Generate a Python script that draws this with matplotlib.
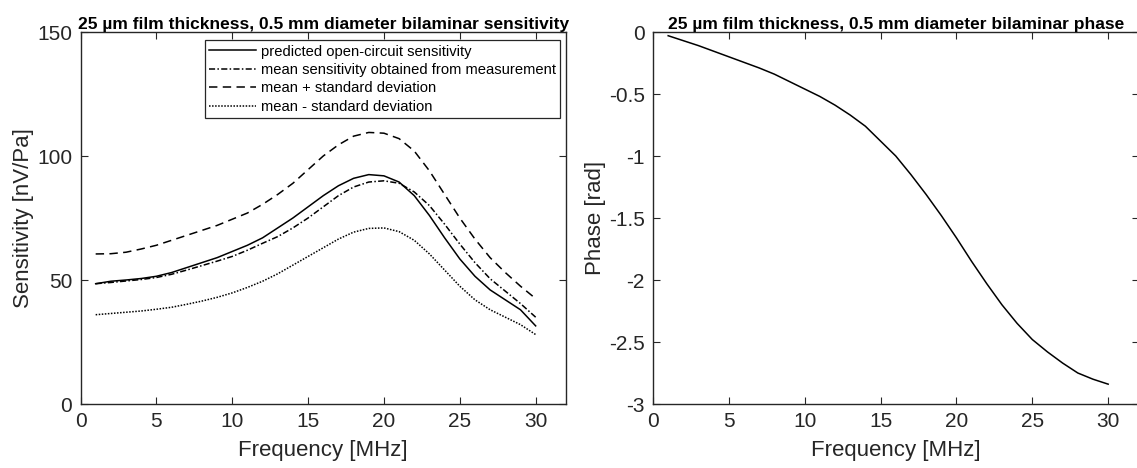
import matplotlib
matplotlib.use("Agg")
import matplotlib.pyplot as plt
import numpy as np

plt.rcParams["font.family"] = ["Liberation Sans", "DejaVu Sans"]

# frequency axis [MHz]
freq = np.arange(1, 31)

# sensitivity curves [nV/Pa]
predicted = [48.5, 49.5, 50.0, 50.6, 51.5, 53.0, 55.0, 57.0, 59.0, 61.5,
             64.0, 67.0, 71.0, 75.0, 79.5, 84.0, 88.0, 91.0, 92.5, 92.0,
             89.5, 84.0, 76.0, 67.0, 58.5, 51.5, 46.0, 42.0, 38.0, 31.5]
mean_meas = [48.5, 49.0, 49.6, 50.2, 51.0, 52.3, 54.0, 55.8, 57.6, 59.5,
             62.0, 64.8, 67.5, 71.0, 75.0, 79.5, 84.0, 87.5, 89.5, 90.0,
             89.0, 85.5, 80.0, 72.5, 64.5, 57.0, 50.5, 45.5, 40.5, 35.0]
mean_plus = [60.5, 60.6, 61.2, 62.5, 64.0, 66.0, 68.0, 70.0, 72.0, 74.5,
             77.0, 80.5, 84.5, 89.0, 94.5, 100.0, 104.5, 108.0, 109.5, 109.2,
             107.0, 102.0, 94.0, 84.5, 75.0, 66.5, 59.0, 53.0, 47.5, 42.5]
mean_minus = [36.0, 36.5, 37.0, 37.5, 38.2, 39.0, 40.2, 41.5, 43.0, 44.8,
              47.0, 49.5, 52.5, 56.0, 59.5, 63.0, 66.5, 69.3, 70.8, 71.0,
              69.5, 66.0, 60.5, 54.0, 47.5, 42.0, 38.0, 35.0, 32.0, 28.0]

# phase [rad]
phase = [-0.03, -0.07, -0.11, -0.155, -0.20, -0.245, -0.29, -0.34, -0.40, -0.46,
         -0.52, -0.59, -0.67, -0.76, -0.88, -1.00, -1.15, -1.31, -1.48, -1.66,
         -1.85, -2.03, -2.20, -2.35, -2.48, -2.58, -2.67, -2.75, -2.80, -2.84]

legend_labels = ["predicted open-circuit sensitivity",
                 "mean sensitivity obtained from measurement",
                 "mean + standard deviation",
                 "mean - standard deviation"]

axcol = "#262626"
W, H = 1137, 468
fig = plt.figure(figsize=(W / 100, H / 100), dpi=100)
ax1 = fig.add_axes([80.5 / W, (H - 404) / H, 485.5 / W, 372 / H])
ax2 = fig.add_axes([653 / W, (H - 404) / H, 485.5 / W, 372 / H])


def style_axes(ax):
    for s in ax.spines.values():
        s.set_color(axcol)
        s.set_linewidth(1.0)
    ax.tick_params(direction="in", top=True, right=True, length=5,
                   width=0.8, color=axcol, labelsize=15, labelcolor=axcol, pad=6)
    ax.set_xlim(0, 32)
    ax.set_xticks([0, 5, 10, 15, 20, 25, 30])
    ax.set_xlabel("Frequency [MHz]", fontsize=16, color=axcol, labelpad=6)


lw = 1.1
ax1.plot(freq, predicted, "-", color="black", lw=lw, label=legend_labels[0])
ax1.plot(freq, mean_meas, color="black", lw=lw, linestyle=(0, (4, 1.5, 1, 1.5)),
         label=legend_labels[1])
ax1.plot(freq, mean_plus, color="black", lw=lw, linestyle=(0, (5.5, 3.5)),
         label=legend_labels[2])
ax1.plot(freq, mean_minus, color="black", lw=lw, linestyle=(0, (1, 1)),
         label=legend_labels[3])
style_axes(ax1)
ax1.set_ylim(0, 150)
ax1.set_yticks([0, 50, 100, 150])
ax1.set_ylabel("Sensitivity [nV/Pa]", fontsize=16, color=axcol, labelpad=2)
ax1.set_title("25 µm film thickness, 0.5 mm diameter bilaminar sensitivity",
              fontsize=12.5, fontweight="bold", pad=2)
leg = ax1.legend(loc="upper right", bbox_to_anchor=(0.988, 0.978), fontsize=10.6,
                 frameon=True, fancybox=False, edgecolor=axcol, framealpha=1,
                 handlelength=3.2, handletextpad=0.3, labelspacing=0.3,
                 borderpad=0.3, borderaxespad=0)
leg.get_frame().set_linewidth(0.9)

ax2.plot(freq, phase, "-", color="black", lw=lw)
style_axes(ax2)
ax2.set_ylim(-3, 0)
ax2.set_yticks([-3, -2.5, -2, -1.5, -1, -0.5, 0])
ax2.set_yticklabels(["-3", "-2.5", "-2", "-1.5", "-1", "-0.5", "0"])
ax2.set_ylabel("Phase [rad]", fontsize=16, color=axcol, labelpad=2)
ax2.set_title("25 µm film thickness, 0.5 mm diameter bilaminar phase",
              fontsize=12.5, fontweight="bold", pad=2)

fig.savefig("out.png", dpi=100)
